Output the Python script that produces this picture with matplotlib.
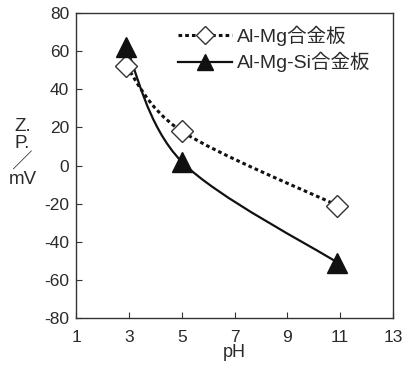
import numpy as np
import matplotlib
matplotlib.use('Agg')
import matplotlib.pyplot as plt
from matplotlib.path import Path
from matplotlib.patches import PathPatch
from matplotlib.lines import Line2D

plt.rcParams['font.family'] = ['Liberation Sans', 'Noto Sans CJK JP']
plt.rcParams['axes.unicode_minus'] = False

ph_mg = [2.9, 5.0, 10.9]
zp_mg = [52, 18, -21]
ph_mgsi = [2.9, 5.0, 10.9]
zp_mgsi = [62, 2, -51]
labels = ['Al-Mg合金板', 'Al-Mg-Si合金板']
xticks = [1, 3, 5, 7, 9, 11, 13]
yticks = [-80, -60, -40, -20, 0, 20, 40, 60, 80]

ink = '#2a2a2a'
dotted = (0, (1.2, 1.0))


def smooth_path(xs, ys):
    # Catmull-Rom through the points, drawn as cubic bezier segments
    pts = np.column_stack([xs, ys]).astype(float)
    verts = [pts[0]]
    codes = [Path.MOVETO]
    n = len(pts)
    for i in range(n - 1):
        p0 = pts[i - 1] if i > 0 else pts[i]
        p1 = pts[i]
        p2 = pts[i + 1]
        p3 = pts[i + 2] if i + 2 < n else pts[i + 1]
        c1 = p1 + (p2 - p0) / 6
        c2 = p2 - (p3 - p1) / 6
        verts += [c1, c2, p2]
        codes += [Path.CURVE4] * 3
    return Path(verts, codes)


fig = plt.figure(figsize=(4.03, 3.65), dpi=100)
ax = fig.add_axes([0.189, 0.129, 0.786, 0.835])

ax.add_patch(PathPatch(smooth_path(ph_mg, zp_mg), fill=False, ls=dotted,
                       lw=2.2, ec='#111111', zorder=2))
ax.add_patch(PathPatch(smooth_path(ph_mgsi, zp_mgsi), fill=False, ls='-',
                       lw=1.6, ec='#111111', zorder=2))
ax.plot(ph_mg, zp_mg, ls='none', marker='D', ms=11, mfc='white', mec='#333333',
        mew=1.0, zorder=3)
ax.plot(ph_mgsi, zp_mgsi, ls='none', marker='^', ms=14, mfc='#111111', mec='#111111',
        zorder=4)

handles = [
    Line2D([], [], ls=dotted, lw=2.2, color='#111111', marker='D', ms=9,
           mfc='white', mec='#333333', mew=1.0),
    Line2D([], [], ls='-', lw=1.6, color='#111111', marker='^', ms=12,
           mfc='#111111', mec='#111111'),
]
ax.legend(handles, labels, loc='upper left', bbox_to_anchor=(0.29, 0.99),
          frameon=False, fontsize=14, handlelength=2.8, handletextpad=0.25,
          labelspacing=0.3, borderpad=0.0, numpoints=1, labelcolor=ink)

ax.set_xlim(1, 13)
ax.set_ylim(-80, 80)
ax.set_xticks(xticks)
ax.set_yticks(yticks)
ax.tick_params(direction='in', length=4, width=0.8, labelsize=12.5,
               labelcolor=ink, color='#333333', pad=5)
ax.tick_params(axis='x', pad=9)
for s in ax.spines.values():
    s.set_color('#333333')
    s.set_linewidth(1.0)

ax.set_xlabel('pH', fontsize=13, color=ink, labelpad=-1)

# stacked y label: Z. / P. / slash / mV
fig.text(0.056, 1 - 153 / 365, 'Z.\nP.\n╱\nmV', ha='center', va='center',
         fontsize=13.5, color=ink, linespacing=1.02)

fig.savefig('out.png', dpi=100)
